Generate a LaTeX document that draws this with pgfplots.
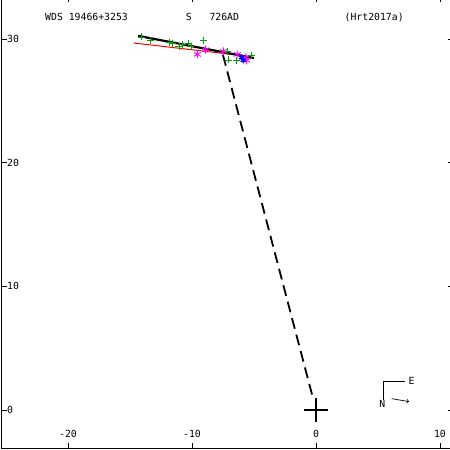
\documentclass[border=0pt]{standalone}
\usepackage{fontspec}
\setmainfont{DejaVu Sans Mono}
\usepackage{pgfplots}
\pgfplotsset{compat=1.18}
\definecolor{pgreen}{RGB}{0,160,0}
\definecolor{pmag}{RGB}{255,0,255}
\definecolor{pblue}{RGB}{0,0,255}
\begin{document}
\begin{tikzpicture}
\begin{axis}[
  scale only axis, width=451.5pt, height=451.5pt,
  xmin=-25.36, xmax=11.05, ymin=-3.11, ymax=33.39,
  axis line style={draw=none},
  tick align=inside, xtick pos=both, ytick pos=both,
  major tick length=5pt,
  tick style={black, line width=0.8pt},
  xtick={-20,-10,0,10}, xticklabels={-20,-10,0,10},
  ytick={0,10,20,30}, yticklabels={0,10,20,30},
  xticklabel style={anchor=base, inner sep=0pt, yshift=11pt},
  yticklabel style={anchor=west, inner sep=0pt, xshift=5.5pt},
  font=\fontsize{9.8}{11}\selectfont,
  clip=false,
]
\draw[black, line width=1.5pt] (rel axis cs:0,1) -- (rel axis cs:0,0) -- (rel axis cs:1,0);
% fitted orbit arcs
\addplot[red, line width=1pt] coordinates {(-14.7,29.67) (-6.5,28.72)};
% green observations
\addplot[only marks, mark=+, mark size=3.5pt, pgreen, line width=0.9pt] coordinates {
(-14.06,30.16) (-13.33,29.9) (-11.85,29.72) (-11.6,29.64) (-11.05,29.4) (-10.8,29.55)
(-10.3,29.6) (-10.08,29.4) (-9.09,29.9) (-7.15,29.0) (-7.07,28.3) (-6.4,28.27) (-5.2,28.7)
};
\addplot[black, line width=2.2pt] coordinates {(-14.35,30.25) (-5.0,28.45)};
\addplot[black, line width=1.8pt, dash pattern=on 11pt off 6pt] coordinates {(-7.5,28.7) (-0.2,0.8)};
% magenta
\addplot[only marks, mark=asterisk, mark size=4pt, pmag, line width=0.9pt] coordinates {
(-9.57,28.75) (-8.9,29.13) (-7.47,29.0) (-6.35,28.75) (-5.65,28.5) (-5.6,28.27)
};
% blue
\addplot[only marks, mark=asterisk, mark size=3pt, pblue, line width=1.2pt] coordinates {
(-6.0,28.5) (-5.87,28.27)
};
% primary
\addplot[only marks, mark=+, mark size=12pt, black, line width=1.8pt] coordinates {(0,0)};
% title
\node[anchor=base west, inner sep=0pt] at (axis cs:-21.85,31.45) {WDS 19466+3253};
\node[anchor=base west, inner sep=0pt] at (axis cs:-10.5,31.45) {S};
\node[anchor=base west, inner sep=0pt] at (axis cs:-8.6,31.45) {726AD};
\node[anchor=base west, inner sep=0pt] at (axis cs:2.3,31.45) {(Hrt2017a)};
% compass
\draw[black, line width=0.8pt] (axis cs:5.43,0.81) -- (axis cs:5.43,2.3) -- (axis cs:7.18,2.3);
\node[inner sep=0pt] at (axis cs:7.7,2.35) {E};
\node[inner sep=0pt] at (axis cs:5.35,0.5) {N};
\draw[black, line width=0.7pt, ->] (axis cs:6.1,0.92) -- (axis cs:7.5,0.68);
\end{axis}
\pgfresetboundingbox
\path[use as bounding box] (-1.5pt,-1.5pt) rectangle (448.5pt,448.5pt);
\end{tikzpicture}
\end{document}
